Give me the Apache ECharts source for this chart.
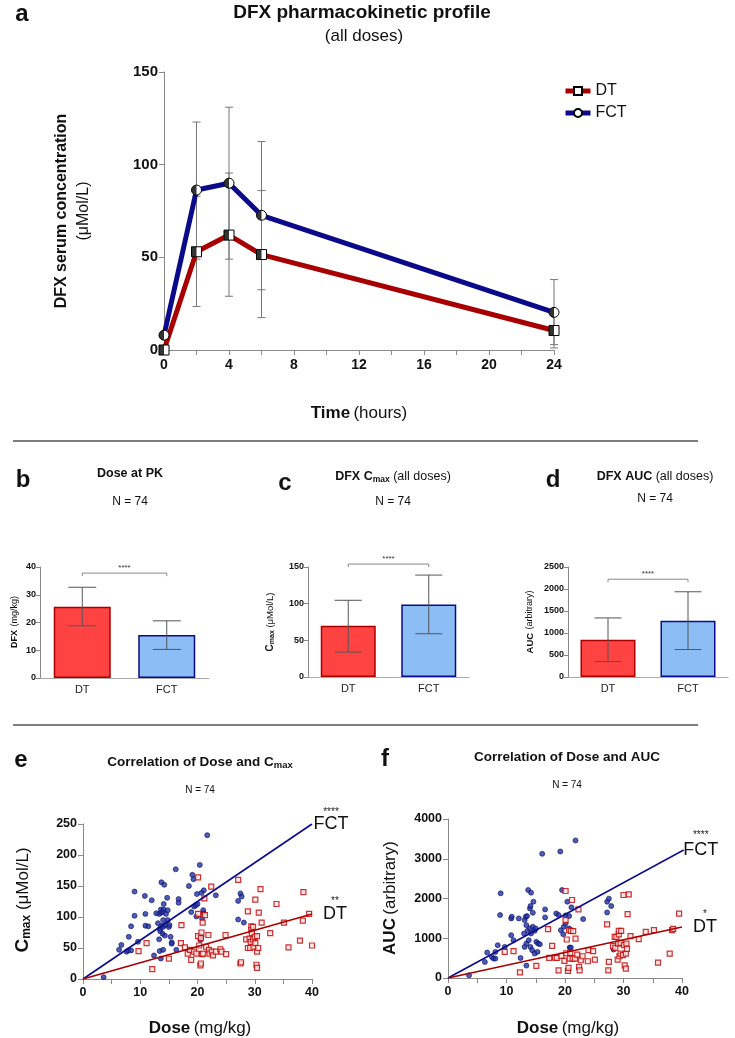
<!DOCTYPE html>
<html><head><meta charset="utf-8">
<script src="https://cdn.jsdelivr.net/npm/echarts@6/dist/echarts.min.js"></script>
<style>html,body{margin:0;padding:0;background:#fff}#c{width:735px;height:1038px}</style>
</head><body><div id="c"></div>
<script>
// ---------- Panel a: PK profile ----------
const timeHours = [0, 2, 4, 6, 24];
const timeTicks = [0, 4, 8, 12, 16, 20, 24];
const dtMean  = [0, 53, 62, 51.5, 10.5];
const dtLow   = [0, 23.5, 29, 17.5, 1.1];
const dtHigh  = [0, 83, 95.5, 86, 19.9];
const fctMean = [8, 86.3, 90, 72.7, 20.3];
const fctLow  = [8, 49, 49, 32.5, 2.9];
const fctHigh = [8, 123, 131, 112.5, 38];

// ---------- Panels b, c, d: bar charts ----------
const groups = ['DT', 'FCT'];
const doseMean = [25.7, 15.5], doseLow = [18.8, 10.3], doseHigh = [32.7, 20.6], doseSig = 37.8;
const cmaxMean = [70, 99], cmaxLow = [34, 59], cmaxHigh = [104.6, 139], cmaxSig = 154;
const aucMean = [846, 1281], aucLow = [350, 624], aucHigh = [1342, 1937], aucSig = 2222;

// ---------- Panel e: Dose vs Cmax ----------
const cmaxFCT = [[3.6,3],[6.3,47],[6.7,55],[7.6,44],[7.9,46],[8.0,68],[8.4,85],[8.4,46],[9.0,102],[9.0,141],[9.6,60],[10.8,134],[10.9,105],[10.9,86],[11.4,85],[12.0,127],[12.4,38],[12.8,106],[13.1,90],[13.3,64],[13.3,105],[13.4,81],[13.4,45],[13.5,77],[13.6,33],[13.6,112],[13.7,107],[13.7,156],[13.8,86],[13.9,73],[13.9,109],[14.0,84],[14.0,47],[14.0,95],[14.1,112],[14.1,121],[14.2,152],[14.3,70],[14.4,87],[14.5,105],[14.7,131],[14.8,95],[14.8,111],[15.0,84],[15.1,87],[15.3,68],[15.5,59],[15.5,57],[16.2,177],[16.3,47],[16.7,129],[16.7,123],[18.5,150],[18.9,108],[19.1,168],[19.3,161],[19.4,117],[19.7,119],[19.8,101],[19.9,137],[20.0,121],[20.4,184],[20.5,63],[20.7,68],[20.7,139],[20.8,98],[21.0,111],[21.1,106],[21.1,143],[21.7,232],[23.2,135],[27.1,126],[27.1,96],[27.5,138],[27.7,133],[28.1,91]];
const cmaxDT = [[9.7,45],[11.1,58],[12.1,16],[15.0,33],[17.2,87],[17.1,58],[17.8,51],[18.3,41],[18.7,47],[18.9,31],[19.4,44],[19.8,41],[20.1,69],[20.1,164],[20.1,105],[20.3,54],[20.5,22],[20.6,25],[20.7,75],[20.6,66],[20.8,40],[21.0,41],[20.9,91],[21.2,130],[21.3,103],[21.5,52],[21.9,71],[22.0,47],[22.1,41],[22.4,149],[22.5,44],[22.7,38],[23.2,44],[24.0,48],[24.2,44],[24.9,71],[25.0,40],[27.1,160],[27.5,25],[27.6,27],[28.5,64],[28.8,109],[28.8,50],[29.1,65],[29.2,50],[29.3,60],[29.4,85],[29.4,79],[29.5,74],[29.7,84],[29.7,64],[29.8,52],[30.0,68],[30.1,128],[30.1,58],[30.3,23],[30.4,18],[30.4,69],[30.4,44],[30.6,50],[30.7,107],[31.0,145],[31.2,91],[32.7,74],[33.8,121],[35.1,91],[35.9,51],[37.9,62],[38.4,94],[38.5,140],[39.5,105],[40.0,54],[40.2,129]];
const fitCmaxFCT = [[0,0],[40,250]];
const fitCmaxDT  = [[0,0],[40,105]];

// ---------- Panel f: Dose vs AUC ----------
const aucFCT = [[3.6,67],[6.3,404],[6.7,640],[7.5,530],[7.8,488],[8.1,657],[8.1,488],[8.5,825],[8.9,1583],[9.0,2130],[9.7,783],[10.8,1078],[10.8,1499],[10.9,1541],[11.2,951],[12.1,1499],[12.4,505],[13.0,1120],[13.1,783],[13.1,1457],[13.3,1541],[13.4,1330],[13.4,312],[13.4,867],[13.5,1558],[13.6,1187],[13.7,2214],[13.8,951],[14.0,1751],[14.0,1246],[14.1,1810],[14.1,783],[14.2,1120],[14.2,2147],[14.4,699],[14.5,1288],[14.5,1642],[14.6,1920],[14.8,615],[14.8,1187],[15.0,1246],[15.1,909],[15.3,657],[15.4,867],[15.7,850],[16.6,1726],[16.6,1524],[16.1,3124],[18.5,1625],[18.9,1583],[19.2,3183],[19.3,1204],[19.5,2214],[19.7,1103],[19.8,1288],[20.1,1575],[20.1,1372],[20.4,1920],[20.7,1558],[20.7,1246],[20.8,766],[21.0,766],[21.1,1777],[21.8,3461],[23.1,1482],[27.2,1650],[27.2,1920],[27.5,1996],[27.9,1810],[28.3,716]];
const aucDT = [[9.7,657],[11.2,674],[12.3,143],[15.1,303],[17.1,1229],[17.3,505],[17.8,808],[18.3,514],[18.6,505],[18.9,194],[19.4,556],[19.9,429],[20.1,2189],[20.1,1457],[20.2,623],[20.3,968],[20.5,177],[20.6,253],[20.7,1204],[20.8,488],[20.9,632],[21.0,1187],[21.2,1962],[21.3,488],[21.4,1179],[21.7,488],[21.8,993],[22.1,589],[22.3,1726],[22.4,278],[22.5,194],[22.7,446],[23.0,547],[23.9,421],[24.0,699],[24.8,674],[25.1,463],[27.2,1347],[27.4,194],[27.5,404],[28.2,800],[28.5,1036],[28.6,758],[28.8,1036],[29.0,463],[29.1,867],[29.2,1095],[29.2,1187],[29.3,547],[29.5,615],[29.5,884],[29.6,1187],[29.9,573],[30.0,2088],[30.1,825],[30.2,320],[30.4,236],[30.4,615],[30.5,867],[30.6,733],[30.7,1608],[30.9,2105],[31.2,1053],[32.6,977],[33.8,1162],[35.2,1204],[35.9,387],[37.9,615],[38.3,1204],[38.5,1238],[39.5,1617],[40.1,472],[40.2,1667]];
const fitAucFCT = [[0,0],[40.3,3220]];
const fitAucDT  = [[0,0],[40,1285]];

const FONT = '"Liberation Sans", Arial, Helvetica, sans-serif';
const AX = '#8a8a8a';
const RED_LINE = '#A80000', BLUE_LINE = '#0A0A8A';
const RED_FILL = '#FF4343', BLUE_FILL = '#8DBDF5';
const plain = v => String(v);

const chart = echarts.init(document.getElementById('c'), null, {renderer: 'canvas'});

function errRender(capW, color) {
  return function (params, api) {
    const x = api.value(0), lo = api.value(1), hi = api.value(2);
    const p1 = api.coord([x, lo]), p2 = api.coord([x, hi]);
    const st = {stroke: color, lineWidth: 1, fill: null};
    return {type: 'group', children: [
      {type: 'line', shape: {x1: p1[0], y1: p1[1], x2: p2[0], y2: p2[1]}, style: st},
      {type: 'line', shape: {x1: p1[0] - capW / 2, y1: p1[1], x2: p1[0] + capW / 2, y2: p1[1]}, style: st},
      {type: 'line', shape: {x1: p2[0] - capW / 2, y1: p2[1], x2: p2[0] + capW / 2, y2: p2[1]}, style: st}
    ]};
  };
}
function sigRender(params, api) {
  const a = api.coord([api.value(0), api.value(2)]);
  const b = api.coord([api.value(1), api.value(2)]);
  const st = {stroke: '#888', lineWidth: 1};
  return {type: 'group', children: [
    {type: 'line', shape: {x1: a[0], y1: a[1], x2: b[0], y2: b[1]}, style: st},
    {type: 'line', shape: {x1: a[0], y1: a[1], x2: a[0], y2: a[1] + 3}, style: st},
    {type: 'line', shape: {x1: b[0], y1: b[1], x2: b[0], y2: b[1] + 3}, style: st},
    {type: 'text', x: (a[0] + b[0]) / 2, y: a[1] - 1, style: {text: '****', fontSize: 8, fill: '#333', align: 'center', verticalAlign: 'bottom', fontFamily: FONT}}
  ]};
}

function catX(gi) {
  return {type: 'category', gridIndex: gi, data: groups,
    axisLine: {lineStyle: {color: '#aaa', width: 1}},
    axisTick: {alignWithLabel: true, length: 4, lineStyle: {color: '#aaa'}},
    axisLabel: {fontSize: 11, color: '#222', margin: 6, fontFamily: FONT}};
}
function valY(gi, max, interval, fs, margin) {
  return {type: 'value', gridIndex: gi, min: 0, max: max, interval: interval,
    axisLine: {show: true, lineStyle: {color: AX, width: 1}},
    axisTick: {show: true, length: fs > 10 ? 5 : 4, lineStyle: {color: AX}},
    splitLine: {show: false},
    axisLabel: {fontSize: fs, fontWeight: 'bold', color: '#111', margin: margin, fontFamily: FONT, formatter: plain}};
}
function valX(gi, max, interval, fs, margin) {
  return {type: 'value', gridIndex: gi, min: 0, max: max, interval: interval,
    axisLine: {show: true, lineStyle: {color: AX, width: 1}},
    axisTick: {show: true, length: 5, lineStyle: {color: AX}},
    minorTick: {show: true, splitNumber: 2, length: 5, lineStyle: {color: AX}},
    splitLine: {show: false}, minorSplitLine: {show: false},
    axisLabel: {fontSize: fs, fontWeight: 'bold', color: '#111', margin: margin, fontFamily: FONT, formatter: plain}};
}

function barSeries(gi, mean) {
  return {type: 'bar', xAxisIndex: gi, yAxisIndex: gi, barWidth: gi === 1 ? 57 : 55,
    data: mean.map((v, i) => ({value: v, itemStyle: i === 0
      ? {color: RED_FILL, borderColor: RED_LINE, borderWidth: 1.5}
      : {color: BLUE_FILL, borderColor: BLUE_LINE, borderWidth: 1.5}})),
    z: 2, silent: true};
}
function errSeries(gi, low, high, cap) {
  return {type: 'custom', xAxisIndex: gi, yAxisIndex: gi, renderItem: errRender(cap, '#555'),
    encode: {x: 0, y: [1, 2]}, data: low.map((l, i) => [i, l, high[i]]), z: 3, silent: true};
}
function sigSeries(gi, v) {
  return {type: 'custom', xAxisIndex: gi, yAxisIndex: gi, renderItem: sigRender,
    encode: {x: [0, 1], y: 2}, data: [[0, 1, v]], z: 3, silent: true, clip: false};
}
function fitSeries(gi, data, color, name, stars, dist, sH, tH) {
  return {type: 'line', xAxisIndex: gi, yAxisIndex: gi, data: data, symbol: 'none',
    lineStyle: {color: color, width: 1.6}, z: 5, silent: true,
    endLabel: {show: true, distance: dist, offset: [0, -sH / 2],
      formatter: '{s|' + stars + '}\n{t|' + name + '}',
      rich: {s: {fontSize: 10, lineHeight: sH, width: 30, align: 'center', color: '#222', fontFamily: FONT},
             t: {fontSize: 18, lineHeight: tH, width: 30, align: 'center', color: '#111', fontFamily: FONT}}}};
}
function scatterFCT(gi, data) {
  return {type: 'scatter', xAxisIndex: gi, yAxisIndex: gi, data: data, symbol: 'circle', symbolSize: 5,
    itemStyle: {color: '#2233A8', borderColor: '#101060', borderWidth: 0.8}, z: 3, silent: true};
}
function scatterDT(gi, data) {
  return {type: 'scatter', xAxisIndex: gi, yAxisIndex: gi, data: data, symbol: 'rect', symbolSize: 5,
    itemStyle: {color: '#fbe3e3', borderColor: '#C00000', borderWidth: 1.2}, z: 4, silent: true};
}

function txt(x, y, text, rich, rot) {
  return {type: 'text', x: x, y: y, rotation: rot ? Math.PI / 2 : 0, silent: true,
    style: {text: text, rich: rich, align: 'center', verticalAlign: 'middle', fontFamily: FONT, fill: '#111'}};
}
const R = (fs, w) => ({fontSize: fs, fontWeight: w || 'normal', fontFamily: FONT, fill: '#111'});

const option = {
  animation: false,
  textStyle: {fontFamily: FONT},
  legend: {data: ['DT', 'FCT'], orient: 'vertical', left: 558, top: 78, itemWidth: 25, itemHeight: 10, itemGap: 6,
    lineStyle: {width: 5}, textStyle: {fontSize: 16, color: '#111', fontFamily: FONT}},
  grid: [
    {left: 164, top: 72, width: 390, height: 278},
    {left: 40, top: 567, width: 169, height: 111},
    {left: 308, top: 567, width: 161, height: 110},
    {left: 568, top: 567, width: 160, height: 110},
    {left: 83, top: 824, width: 229, height: 155},
    {left: 448, top: 819, width: 234, height: 159}
  ],
  xAxis: [
    valX(0, 24, 4, 14, 8),
    catX(1), catX(2), catX(3),
    valX(4, 40, 10, 12.5, 7), valX(5, 40, 10, 12.5, 7)
  ],
  yAxis: [
    valY(0, 150, 50, 15, 6),
    valY(1, 40, 10, 9, 4), valY(2, 150, 50, 9, 4), valY(3, 2500, 500, 9, 4),
    valY(4, 250, 50, 12.5, 6), valY(5, 4000, 1000, 12.5, 6)
  ],
  series: [
    // panel a
    {type: 'custom', xAxisIndex: 0, yAxisIndex: 0, renderItem: errRender(8, '#777'), encode: {x: 0, y: [1, 2]},
      data: timeHours.map((t, i) => [t, dtLow[i], dtHigh[i]]).slice(1), z: 1, silent: true},
    {type: 'custom', xAxisIndex: 0, yAxisIndex: 0, renderItem: errRender(8, '#777'), encode: {x: 0, y: [1, 2]},
      data: timeHours.map((t, i) => [t, fctLow[i], fctHigh[i]]).slice(1), z: 1, silent: true},
    {name: 'DT', type: 'line', xAxisIndex: 0, yAxisIndex: 0, data: timeHours.map((t, i) => [t, dtMean[i]]),
      lineStyle: {color: RED_LINE, width: 5}, symbol: 'rect', symbolSize: 10, clip: false,
      itemStyle: {color: '#fff', borderColor: '#000', borderWidth: 1}, z: 3},
    {name: 'FCT', type: 'line', xAxisIndex: 0, yAxisIndex: 0, data: timeHours.map((t, i) => [t, fctMean[i]]),
      lineStyle: {color: BLUE_LINE, width: 5}, symbol: 'circle', symbolSize: 10, clip: false,
      itemStyle: {color: '#fff', borderColor: '#000', borderWidth: 1}, z: 3},
    {type: 'scatter', xAxisIndex: 0, yAxisIndex: 0, data: timeHours.map((t, i) => [t, dtMean[i]]),
      symbol: 'path://M0,0H5V10H0Z', symbolSize: [5, 10], symbolOffset: [-2.5, 0], itemStyle: {color: '#000'}, z: 4, silent: true, clip: false},
    {type: 'scatter', xAxisIndex: 0, yAxisIndex: 0, data: timeHours.map((t, i) => [t, fctMean[i]]),
      symbol: 'path://M10,0A10,10 0 0 0 10,20Z', symbolSize: [5, 10], symbolOffset: [-2.5, 0], itemStyle: {color: '#000'}, z: 4, silent: true, clip: false},
    // panel b
    barSeries(1, doseMean), errSeries(1, doseLow, doseHigh, 28), sigSeries(1, doseSig),
    // panel c
    barSeries(2, cmaxMean), errSeries(2, cmaxLow, cmaxHigh, 27), sigSeries(2, cmaxSig),
    // panel d
    barSeries(3, aucMean), errSeries(3, aucLow, aucHigh, 27), sigSeries(3, aucSig),
    // panel e
    scatterFCT(4, cmaxFCT), scatterDT(4, cmaxDT),
    fitSeries(4, fitCmaxFCT, BLUE_LINE, 'FCT', '****', 4, 8, 16),
    fitSeries(4, fitCmaxDT, RED_LINE, 'DT', '**', 8, 10, 16),
    // panel f
    scatterFCT(5, aucFCT), scatterDT(5, aucDT),
    fitSeries(5, fitAucFCT, BLUE_LINE, 'FCT', '****', 2, 12, 18),
    fitSeries(5, fitAucDT, RED_LINE, 'DT', '*', 8, 10, 16)
  ],
  graphic: [
    // rules
    {type: 'line', shape: {x1: 13, y1: 441, x2: 698, y2: 441}, style: {stroke: '#555', lineWidth: 1.5}, silent: true},
    {type: 'line', shape: {x1: 13, y1: 725, x2: 698, y2: 725}, style: {stroke: '#555', lineWidth: 1.5}, silent: true},
    // panel letters
    txt(22, 14, '{l|a}', {l: R(24, 'bold')}),
    txt(23, 480, '{l|b}', {l: R(24, 'bold')}),
    txt(285, 483, '{l|c}', {l: R(24, 'bold')}),
    txt(553, 480, '{l|d}', {l: R(24, 'bold')}),
    txt(21, 760, '{l|e}', {l: R(24, 'bold')}),
    txt(385, 759, '{l|f}', {l: R(24, 'bold')}),
    // panel a titles
    txt(362, 13, '{t|DFX pharmacokinetic profile}', {t: R(19, 'bold')}),
    txt(364, 36, '{t|(all doses)}', {t: R(17)}),
    txt(73, 211, '{b|DFX serum concentration}\n{n|(μMol/L)}', {b: Object.assign(R(16, 'bold'), {lineHeight: 22}), n: Object.assign(R(16), {lineHeight: 22})}, true),
    txt(359, 413, '{b|Time} {n|(hours)}', {b: R(17, 'bold'), n: R(17)}),
    // panel b
    txt(130, 474, '{t|Dose at PK}', {t: R(12.5, 'bold')}),
    txt(130, 502, '{t|N = 74}', {t: R(12)}),
    txt(15, 622, '{b|DFX} {n|(mg/kg)}', {b: R(9, 'bold'), n: R(9)}, true),
    // panel c
    txt(393, 477, '{b|DFX C}{s|max}{n| (all doses)}', {b: R(12.5, 'bold'), s: Object.assign(R(8.5, 'bold'), {verticalAlign: 'bottom', padding: [5, 0, 0, 0]}), n: R(12.5)}),
    txt(393, 502, '{t|N = 74}', {t: R(12)}),
    txt(270, 622, '{b|C}{s|max}{n| (μMol/L)}', {b: R(10, 'bold'), s: Object.assign(R(7, 'bold'), {verticalAlign: 'bottom', padding: [4, 0, 0, 0]}), n: R(9.5)}, true),
    // panel d
    txt(655, 477, '{b|DFX AUC}{n| (all doses)}', {b: R(12.5, 'bold'), n: R(12.5)}),
    txt(655, 499, '{t|N = 74}', {t: R(12)}),
    txt(530, 622, '{b|AUC} {n|(arbitrary)}', {b: R(9.5, 'bold'), n: R(9)}, true),
    // panel e
    txt(200, 762, '{b|Correlation of Dose and C}{s|max}', {b: R(13.5, 'bold'), s: Object.assign(R(9.5, 'bold'), {verticalAlign: 'bottom', padding: [6, 0, 0, 0]})}),
    txt(200, 790, '{t|N = 74}', {t: R(10)}),
    txt(23, 900, '{b|C}{s|max}{n| (μMol/L)}', {b: R(19, 'bold'), s: Object.assign(R(12, 'bold'), {verticalAlign: 'bottom', padding: [7, 0, 0, 0]}), n: R(17)}, true),
    txt(200, 1028, '{b|Dose} {n|(mg/kg)}', {b: R(17, 'bold'), n: R(17)}),
    // panel f
    txt(567, 757, '{b|Correlation of Dose and AUC}', {b: R(13.5, 'bold')}),
    txt(567, 785, '{t|N = 74}', {t: R(10)}),
    txt(390, 898, '{b|AUC} {n|(arbitrary)}', {b: R(17, 'bold'), n: R(17)}, true),
    txt(568, 1028, '{b|Dose} {n|(mg/kg)}', {b: R(17, 'bold'), n: R(17)})
  ]
};
chart.setOption(option);
</script>
</body></html>
